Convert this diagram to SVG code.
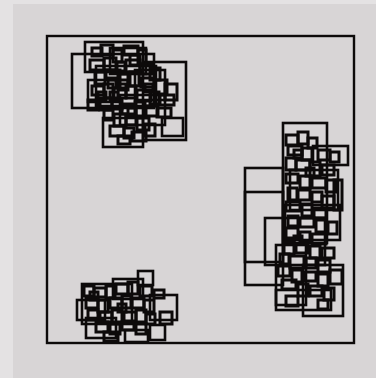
<svg xmlns="http://www.w3.org/2000/svg" width="376" height="378" viewBox="0 0 376 378">
<style>
rect.r{fill:none;stroke:#0d0a0a;stroke-width:2.6}
rect.s{fill:none;stroke:#0d0a0a;stroke-width:3}
</style>
<rect x="0" y="0" width="376" height="378" fill="#d8d5d6"/>
<rect x="0" y="0" width="13" height="378" fill="#e4e2e3"/>
<rect x="0" y="0" width="376" height="4" fill="#e4e2e3"/>
<rect x="47" y="36" width="307" height="307" fill="none" stroke="#0d0a0a" stroke-width="2.4"/>
<g id="cluster-top-left">
<rect class="r" x="72" y="54" width="82" height="54"/>
<rect class="r" x="85" y="42" width="58" height="30"/>
<rect class="r" x="143" y="62" width="43" height="78"/>
<rect class="r" x="103" y="118" width="40" height="29"/>
<rect class="r" x="162" y="118" width="21" height="18"/>
<rect class="r" x="96" y="66" width="60" height="40"/>
<rect class="r" x="110" y="48" width="36" height="26"/>
<rect class="r" x="88" y="80" width="30" height="22"/>
<rect class="r" x="120" y="95" width="45" height="30"/>
<rect class="r" x="135" y="70" width="30" height="30"/>
<rect class="s" x="92" y="48" width="10" height="8"/>
<rect class="s" x="101" y="45" width="12" height="10"/>
<rect class="s" x="113" y="50" width="9" height="12"/>
<rect class="s" x="124" y="46" width="14" height="9"/>
<rect class="s" x="130" y="55" width="10" height="10"/>
<rect class="s" x="138" y="50" width="8" height="14"/>
<rect class="s" x="90" y="60" width="14" height="10"/>
<rect class="s" x="104" y="58" width="12" height="12"/>
<rect class="s" x="117" y="62" width="8" height="9"/>
<rect class="s" x="126" y="60" width="14" height="12"/>
<rect class="s" x="140" y="64" width="12" height="10"/>
<rect class="s" x="150" y="68" width="10" height="12"/>
<rect class="s" x="95" y="72" width="10" height="12"/>
<rect class="s" x="106" y="70" width="14" height="8"/>
<rect class="s" x="118" y="74" width="10" height="10"/>
<rect class="s" x="130" y="72" width="9" height="14"/>
<rect class="s" x="141" y="78" width="13" height="9"/>
<rect class="s" x="155" y="80" width="12" height="14"/>
<rect class="s" x="160" y="95" width="14" height="10"/>
<rect class="s" x="92" y="86" width="12" height="9"/>
<rect class="s" x="104" y="84" width="9" height="14"/>
<rect class="s" x="114" y="88" width="12" height="10"/>
<rect class="s" x="126" y="86" width="10" height="12"/>
<rect class="s" x="137" y="90" width="14" height="11"/>
<rect class="s" x="150" y="92" width="9" height="12"/>
<rect class="s" x="100" y="98" width="12" height="12"/>
<rect class="s" x="112" y="100" width="10" height="9"/>
<rect class="s" x="122" y="104" width="14" height="10"/>
<rect class="s" x="135" y="102" width="10" height="14"/>
<rect class="s" x="146" y="106" width="12" height="10"/>
<rect class="s" x="157" y="108" width="14" height="9"/>
<rect class="s" x="104" y="110" width="9" height="10"/>
<rect class="s" x="114" y="114" width="12" height="12"/>
<rect class="s" x="126" y="116" width="10" height="9"/>
<rect class="s" x="137" y="118" width="12" height="12"/>
<rect class="s" x="110" y="126" width="14" height="10"/>
<rect class="s" x="124" y="128" width="10" height="10"/>
<rect class="s" x="132" y="132" width="14" height="9"/>
<rect class="s" x="118" y="136" width="12" height="8"/>
<rect class="s" x="145" y="124" width="10" height="12"/>
<rect class="s" x="98" y="92" width="8" height="8"/>
<rect class="s" x="108" y="80" width="8" height="8"/>
<rect class="s" x="145" y="84" width="8" height="8"/>
<rect class="s" x="165" y="84" width="12" height="16"/>
<rect class="s" x="88" y="100" width="10" height="10"/>
<rect class="s" x="120" y="80" width="8" height="10"/>
<rect class="s" x="110" y="92" width="8" height="8"/>
<rect class="s" x="128" y="108" width="8" height="8"/>
</g>
<g id="cluster-right">
<rect class="r" x="283" y="123" width="44" height="120"/>
<rect class="r" x="245" y="168" width="38" height="117"/>
<rect class="r" x="245" y="192" width="38" height="70"/>
<rect class="r" x="265" y="218" width="60" height="47"/>
<rect class="r" x="276" y="245" width="30" height="60"/>
<rect class="r" x="303" y="265" width="40" height="51"/>
<rect class="r" x="313" y="146" width="35" height="19"/>
<rect class="r" x="276" y="290" width="55" height="20"/>
<rect class="r" x="290" y="170" width="48" height="40"/>
<rect class="r" x="285" y="205" width="55" height="35"/>
<rect class="s" x="286" y="135" width="12" height="10"/>
<rect class="s" x="298" y="132" width="10" height="12"/>
<rect class="s" x="308" y="138" width="9" height="10"/>
<rect class="s" x="288" y="146" width="14" height="9"/>
<rect class="s" x="302" y="148" width="10" height="12"/>
<rect class="s" x="318" y="150" width="12" height="10"/>
<rect class="s" x="330" y="152" width="9" height="10"/>
<rect class="s" x="286" y="158" width="10" height="12"/>
<rect class="s" x="296" y="160" width="14" height="10"/>
<rect class="s" x="310" y="162" width="10" height="14"/>
<rect class="s" x="322" y="165" width="12" height="10"/>
<rect class="s" x="286" y="174" width="12" height="9"/>
<rect class="s" x="300" y="176" width="10" height="12"/>
<rect class="s" x="312" y="178" width="14" height="10"/>
<rect class="s" x="326" y="180" width="10" height="12"/>
<rect class="s" x="288" y="188" width="9" height="12"/>
<rect class="s" x="298" y="190" width="12" height="10"/>
<rect class="s" x="312" y="192" width="10" height="10"/>
<rect class="s" x="322" y="196" width="12" height="12"/>
<rect class="s" x="286" y="202" width="14" height="9"/>
<rect class="s" x="302" y="204" width="10" height="12"/>
<rect class="s" x="314" y="208" width="12" height="10"/>
<rect class="s" x="288" y="216" width="10" height="10"/>
<rect class="s" x="300" y="218" width="14" height="9"/>
<rect class="s" x="316" y="220" width="10" height="12"/>
<rect class="s" x="328" y="222" width="9" height="12"/>
<rect class="s" x="286" y="228" width="12" height="10"/>
<rect class="s" x="300" y="232" width="10" height="10"/>
<rect class="s" x="312" y="234" width="14" height="10"/>
<rect class="s" x="284" y="242" width="10" height="12"/>
<rect class="s" x="296" y="244" width="12" height="9"/>
<rect class="s" x="310" y="246" width="10" height="12"/>
<rect class="s" x="322" y="248" width="12" height="10"/>
<rect class="s" x="280" y="254" width="9" height="10"/>
<rect class="s" x="290" y="256" width="14" height="12"/>
<rect class="s" x="306" y="258" width="10" height="10"/>
<rect class="s" x="318" y="260" width="12" height="12"/>
<rect class="s" x="278" y="266" width="12" height="10"/>
<rect class="s" x="292" y="270" width="10" height="12"/>
<rect class="s" x="304" y="272" width="12" height="9"/>
<rect class="s" x="318" y="274" width="10" height="12"/>
<rect class="s" x="330" y="270" width="12" height="14"/>
<rect class="s" x="282" y="280" width="14" height="9"/>
<rect class="s" x="298" y="284" width="10" height="12"/>
<rect class="s" x="310" y="286" width="12" height="10"/>
<rect class="s" x="324" y="288" width="10" height="12"/>
<rect class="s" x="286" y="296" width="12" height="10"/>
<rect class="s" x="318" y="300" width="10" height="9"/>
<rect class="s" x="334" y="180" width="8" height="30"/>
<rect class="s" x="294" y="150" width="8" height="8"/>
<rect class="s" x="306" y="168" width="8" height="8"/>
<rect class="s" x="294" y="236" width="8" height="8"/>
</g>
<g id="cluster-bottom-left">
<rect class="r" x="138" y="271" width="15" height="14"/>
<rect class="r" x="150" y="295" width="27" height="25"/>
<rect class="r" x="77" y="300" width="28" height="20"/>
<rect class="r" x="125" y="330" width="23" height="12"/>
<rect class="r" x="150" y="325" width="15" height="15"/>
<rect class="r" x="82" y="284" width="50" height="40"/>
<rect class="r" x="113" y="279" width="30" height="20"/>
<rect class="r" x="86" y="318" width="30" height="20"/>
<rect class="s" x="84" y="286" width="10" height="10"/>
<rect class="s" x="94" y="288" width="12" height="9"/>
<rect class="s" x="106" y="286" width="9" height="12"/>
<rect class="s" x="116" y="284" width="12" height="10"/>
<rect class="s" x="128" y="282" width="10" height="12"/>
<rect class="s" x="140" y="286" width="12" height="10"/>
<rect class="s" x="86" y="298" width="12" height="10"/>
<rect class="s" x="98" y="300" width="10" height="12"/>
<rect class="s" x="110" y="298" width="12" height="10"/>
<rect class="s" x="122" y="296" width="9" height="12"/>
<rect class="s" x="132" y="298" width="12" height="10"/>
<rect class="s" x="144" y="300" width="10" height="12"/>
<rect class="s" x="88" y="310" width="10" height="10"/>
<rect class="s" x="100" y="312" width="12" height="10"/>
<rect class="s" x="112" y="310" width="10" height="12"/>
<rect class="s" x="124" y="312" width="12" height="9"/>
<rect class="s" x="136" y="310" width="10" height="12"/>
<rect class="s" x="146" y="314" width="9" height="10"/>
<rect class="s" x="96" y="322" width="12" height="10"/>
<rect class="s" x="110" y="324" width="10" height="10"/>
<rect class="s" x="122" y="322" width="12" height="8"/>
<rect class="s" x="136" y="324" width="10" height="10"/>
<rect class="s" x="104" y="332" width="14" height="9"/>
<rect class="s" x="160" y="312" width="12" height="12"/>
<rect class="s" x="154" y="290" width="10" height="8"/>
<rect class="s" x="90" y="292" width="8" height="8"/>
<rect class="s" x="118" y="304" width="8" height="8"/>
</g>
</svg>
